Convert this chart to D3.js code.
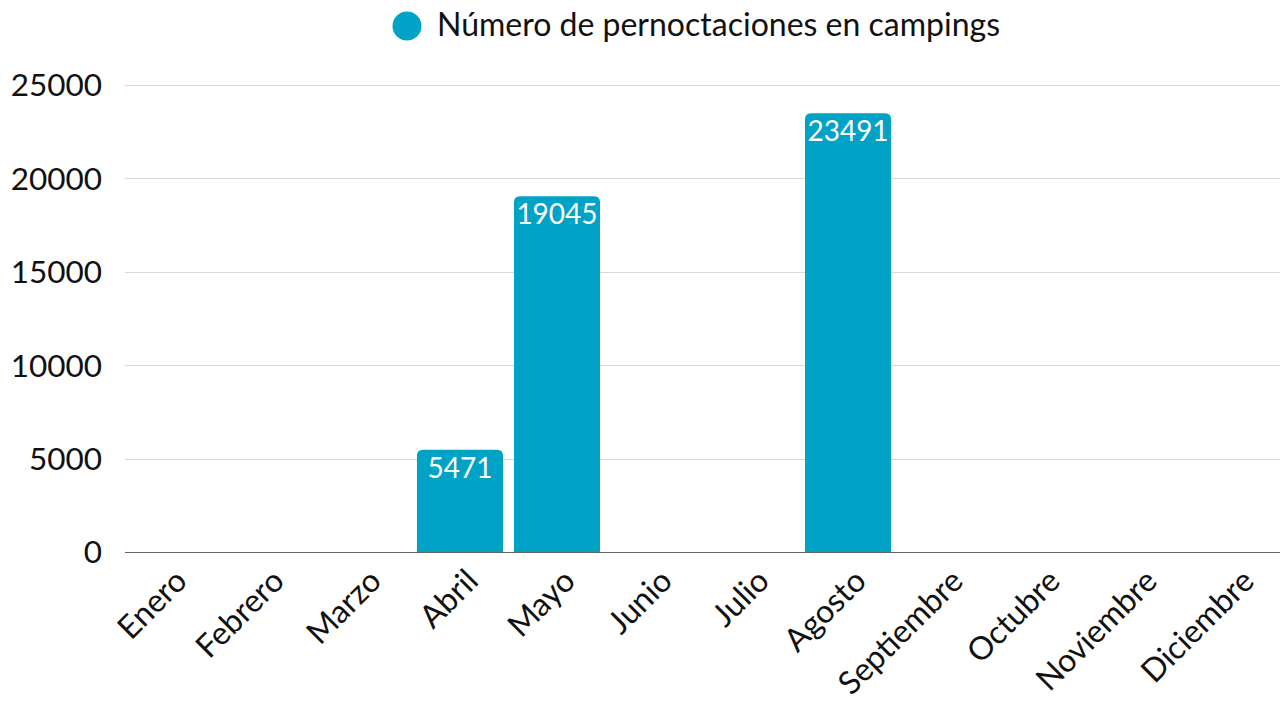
<!DOCTYPE html>
<html>
<head>
<meta charset="utf-8">
<script src="https://cdn.jsdelivr.net/npm/d3@7"></script>
<style>
  body { margin: 0; background: #fff; }
  svg text { font-family: Lato, sans-serif; }
</style>
</head>
<body>
<div id="chart"></div>
<script>
// data
var months = ["Enero", "Febrero", "Marzo", "Abril", "Mayo", "Junio", "Julio",
              "Agosto", "Septiembre", "Octubre", "Noviembre", "Diciembre"];
var nights = [null, null, null, 5471, 19045, null, null, 23491, null, null, null, null];
var yTicks = [0, 5000, 10000, 15000, 20000, 25000];
var seriesName = "Número de pernoctaciones en campings";

var W = 1282, H = 702;
var barColor = "#00a2c5";

var svg = d3.select("#chart").append("svg")
    .attr("width", W).attr("height", H);

var x = d3.scaleBand().domain(months).range([120.5, 1284.5]).paddingInner(0.113).paddingOuter(0.056);
var y = d3.scaleLinear().domain([0, 25000]).range([552, 85]);

// grid
svg.append("g").selectAll("line").data(yTicks.slice(1)).join("line")
    .attr("x1", 125).attr("x2", 1280)
    .attr("y1", function(d) { return Math.round(y(d)) + 0.5; })
    .attr("y2", function(d) { return Math.round(y(d)) + 0.5; })
    .attr("stroke", "#d9d9d9").attr("stroke-width", 1);

// y labels
svg.append("g").selectAll("text").data(yTicks).join("text")
    .attr("x", 102).attr("y", function(d) { return y(d); })
    .attr("dy", "0.36em")
    .attr("text-anchor", "end")
    .attr("font-size", 31.5).attr("fill", "#111")
    .text(function(d) { return d; });

// bars with rounded tops
var r = 6;
var data = months.map(function(m, i) { return {m: m, v: nights[i]}; }).filter(function(d) { return d.v != null; });
svg.append("g").selectAll("path").data(data).join("path")
    .attr("fill", barColor)
    .attr("d", function(d) {
      var x0 = x(d.m), x1 = x0 + x.bandwidth(), top = y(d.v), bot = y(0);
      return "M" + x0 + "," + bot + "V" + (top + r) + "Q" + x0 + "," + top + " " + (x0 + r) + "," + top +
             "H" + (x1 - r) + "Q" + x1 + "," + top + " " + x1 + "," + (top + r) + "V" + bot + "Z";
    });

svg.append("g").selectAll("text").data(data).join("text")
    .attr("x", function(d) { return x(d.m) + x.bandwidth() / 2; })
    .attr("y", function(d) { return y(d.v) + 28; })
    .attr("text-anchor", "middle")
    .attr("font-size", 28).attr("fill", "#fff")
    .text(function(d) { return d.v; });

// zero axis
svg.append("line")
    .attr("x1", 125).attr("x2", 1280).attr("y1", 552.5).attr("y2", 552.5)
    .attr("stroke", "#666").attr("stroke-width", 1);

// month labels
svg.append("g").selectAll("text").data(months).join("text")
    .attr("transform", function(d) {
      return "translate(" + (x(d) + x.bandwidth() / 2 + 20) + ",583) rotate(-45)";
    })
    .attr("text-anchor", "end")
    .attr("font-size", 32).attr("fill", "#111")
    .text(function(d) { return d; });

// legend
svg.append("circle").attr("cx", 407).attr("cy", 26).attr("r", 14.5).attr("fill", barColor);
svg.append("text").attr("x", 437).attr("y", 36)
    .attr("font-size", 32).attr("fill", "#111")
    .text(seriesName);
</script>
</body>
</html>
